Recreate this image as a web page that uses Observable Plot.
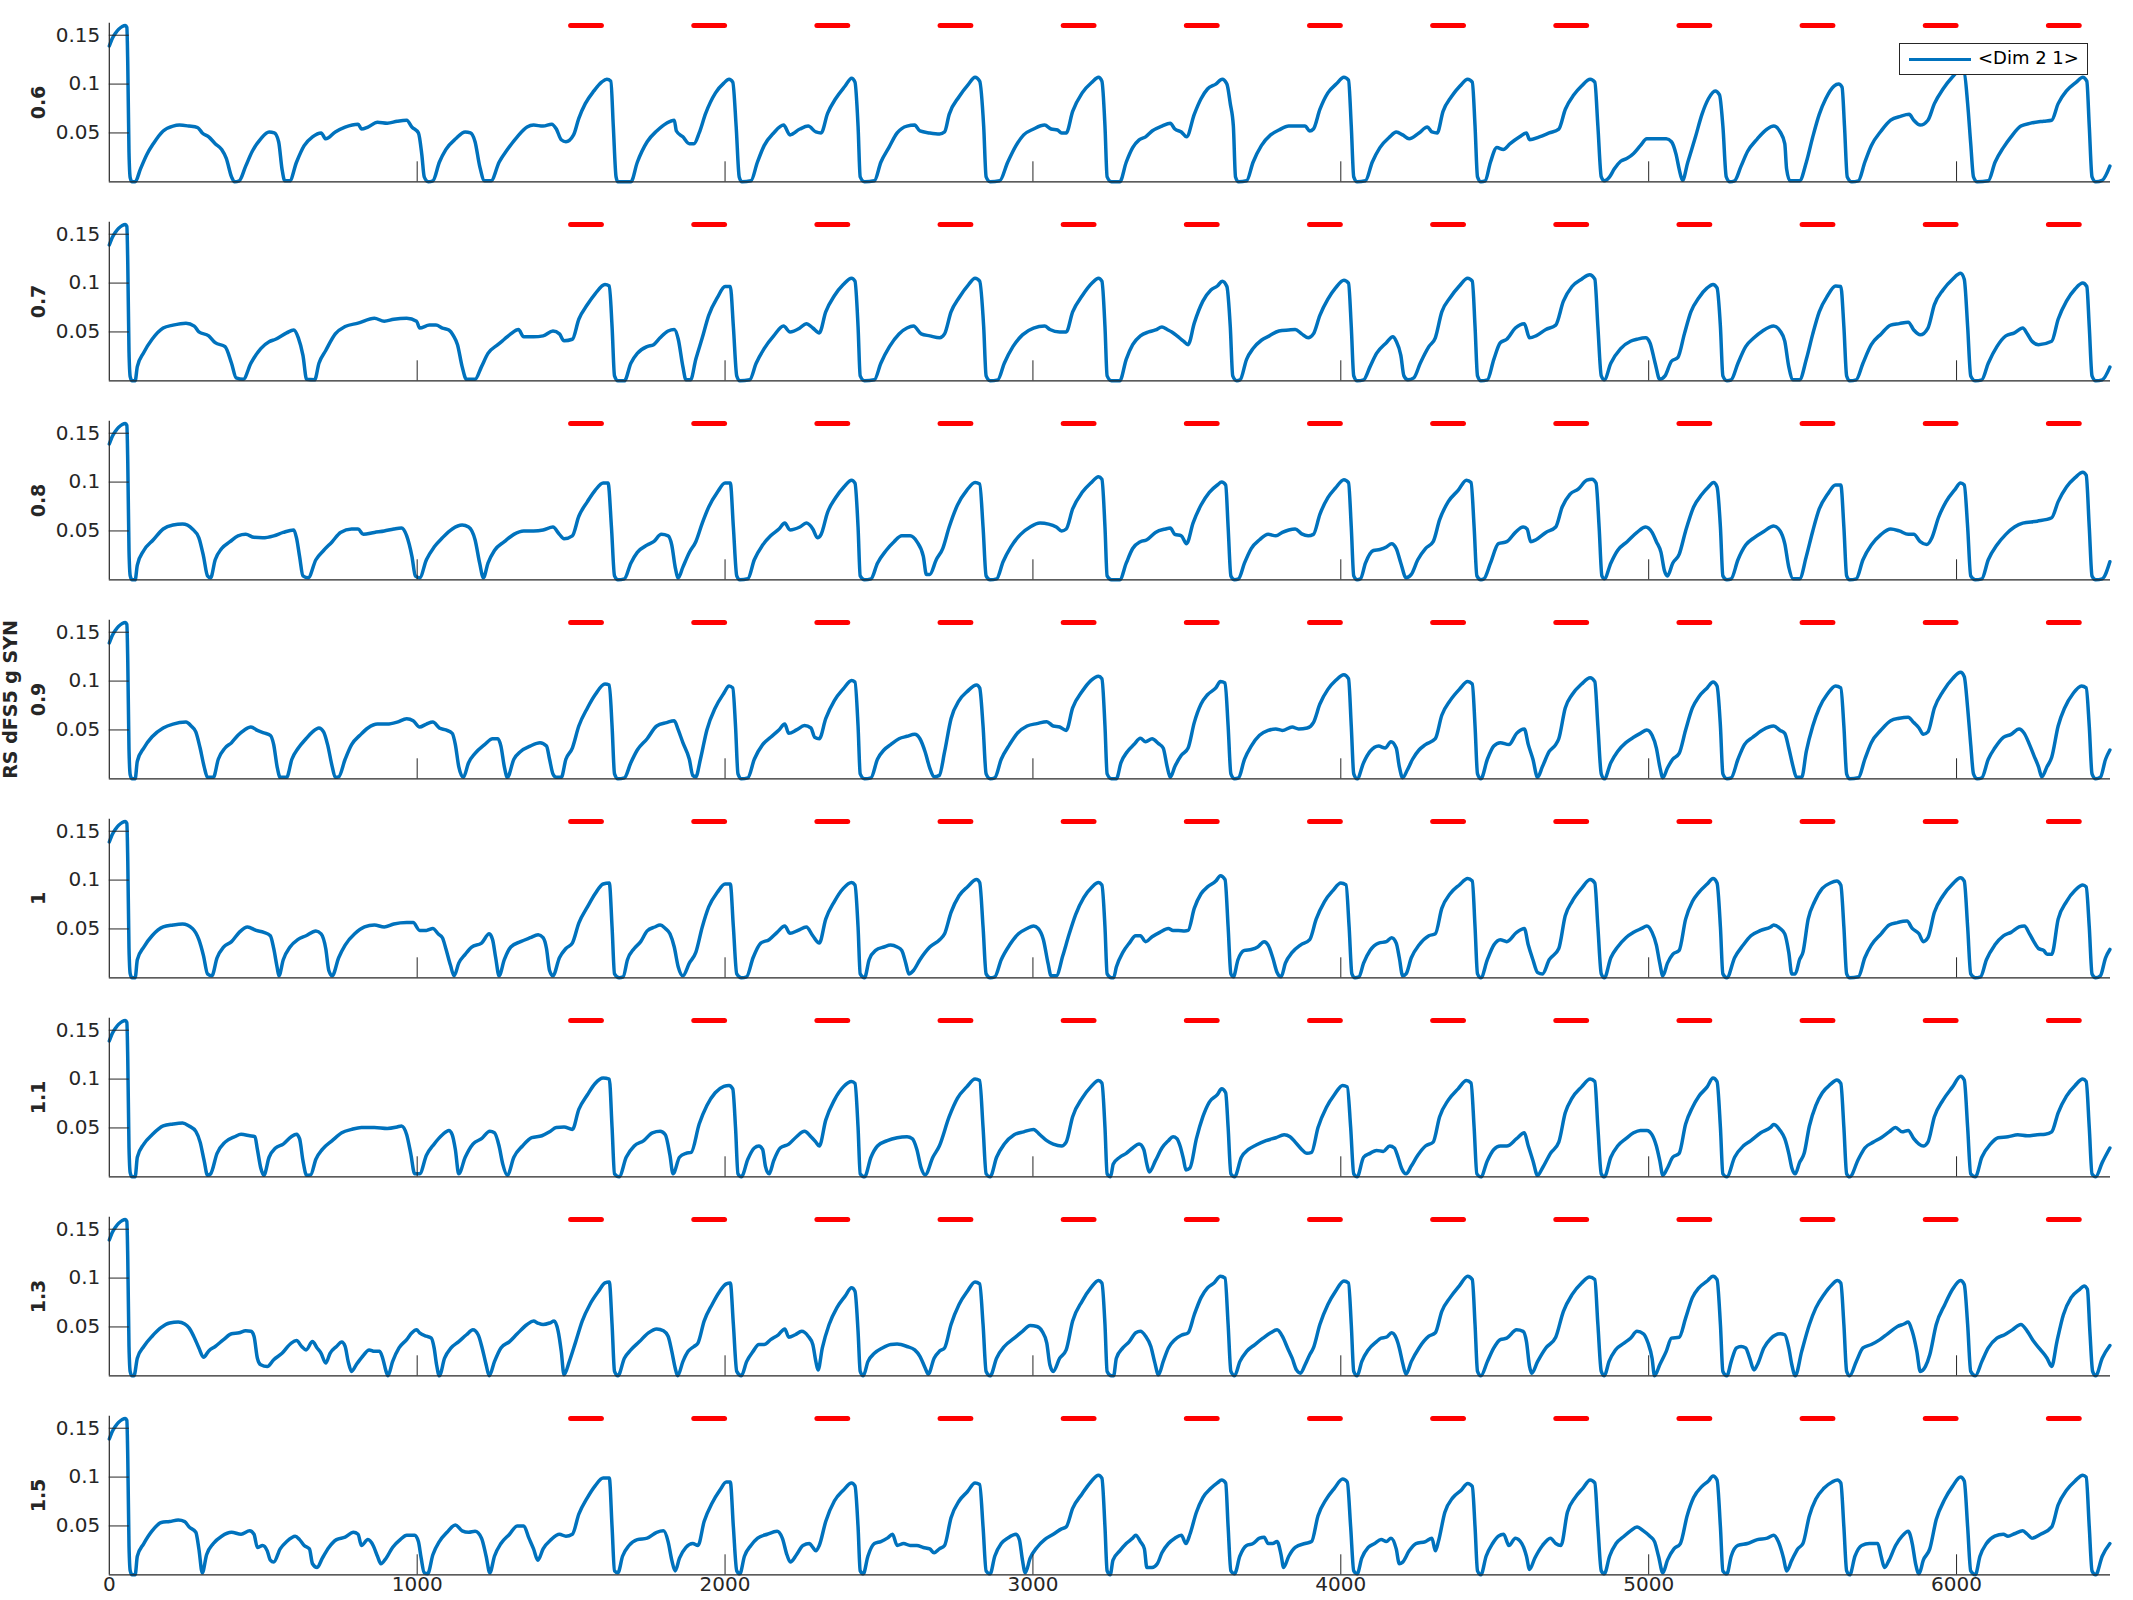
<!DOCTYPE html>
<html><head><meta charset="utf-8">
<script src="https://cdn.jsdelivr.net/npm/d3@7"></script>
<script src="https://cdn.jsdelivr.net/npm/@observablehq/plot@0.6"></script>
<style>
html,body{margin:0;padding:0;background:#fff;}
#wrap{position:relative;width:2133px;height:1600px;overflow:hidden;background:#fff;}
#legend{position:absolute;left:1899px;top:43px;width:189px;height:32px;border:1px solid #262626;background:#fff;box-sizing:border-box;}
#legend .ln{position:absolute;left:9px;top:13.5px;width:62px;height:3.5px;background:#0072BD;}
#legend .tx{position:absolute;left:78px;top:3px;font-family:"DejaVu Sans",sans-serif;font-size:18px;line-height:22px;color:#000;white-space:pre;}
</style></head>
<body><div id="wrap"><div id="legend"><div class="ln"></div><div class="tx">&lt;Dim 2 1&gt;</div></div></div>
<script>
// panel labels (value of the swept parameter)
const panelLabels = ["0.6","0.7","0.8","0.9","1","1.1","1.3","1.5"];
const yLabel = "RS dFS5 g SYN";
const legendLabel = "<Dim 2 1>";
// stimulus bars (red): start times, duration, level
const stimStart = [1500,1900,2300,2700,3100,3500,3900,4300,4700,5100,5500,5900,6300];
const stimDur = 100;
const stimLevel = 0.16;
const xTicks = [0,1000,2000,3000,4000,5000,6000];
const yTicks = [0.05,0.1,0.15];

const p06 = [[0,0.139],[10,0.147],[20,0.152],[30,0.156],[42,0.159],[52,0.16],[57,0.158],[60,0.12],[64,0.03],[68,0.004],[74,0],[84,0],
[101,0.013],[122,0.028],[143,0.039],[175,0.052],[207,0.057],[228,0.058],[259,0.057],[287,0.0555],[302,0.05],[323,0.046],[344,0.039],[365,0.033],[380,0.024],[397,0.005],[407,0],[422,0.001],
[443,0.016],[464,0.031],[492,0.044],[519,0.051],[536,0.05],[550,0.041],[561,0.013],[570,0.001],[586,0.001],
[608,0.02],[633,0.037],[660,0.046],[688,0.05],[703,0.044],[734,0.051],[766,0.056],[808,0.059],[819,0.054],[840,0.056],[871,0.061],[903,0.06],[935,0.062],[966,0.063],[983,0.056],[1004,0.05],[1015,0.028],[1023,0.005],[1036,0],[1051,0.001],
[1072,0.02],[1093,0.033],[1125,0.044],[1156,0.051],[1173,0.05],[1188,0.041],[1203,0.016],[1219,0.001],[1240,0.001],
[1266,0.02],[1293,0.033],[1325,0.046],[1357,0.056],[1378,0.058],[1409,0.057],[1437,0.059],[1452,0.054],[1468,0.043],[1483,0.041],[1508,0.048],
[1525,0.065],[1546,0.08],[1574,0.093],[1599,0.102],[1616,0.105],[1629,0.103],[1637,0.057],[1646,0.005],[1652,0],[1694,0],
[1715,0.02],[1747,0.041],[1778,0.052],[1810,0.06],[1835,0.063],[1842,0.052],[1863,0.046],[1884,0.039],[1899,0.039],[1916,0.05],
[1937,0.07],[1969,0.091],[1996,0.101],[2013,0.105],[2025,0.102],[2036,0.057],[2046,0.005],[2055,0],[2084,0.001],
[2105,0.02],[2127,0.037],[2158,0.05],[2190,0.058],[2211,0.048],[2243,0.054],[2270,0.057],[2295,0.051],[2312,0.05],
[2333,0.07],[2359,0.085],[2390,0.098],[2411,0.106],[2422,0.102],[2432,0.057],[2439,0.005],[2453,0],[2485,0.001],
[2506,0.02],[2532,0.035],[2559,0.05],[2591,0.057],[2616,0.058],[2633,0.052],[2665,0.05],[2697,0.049],[2713,0.051],
[2728,0.069],[2760,0.087],[2791,0.1],[2812,0.107],[2827,0.103],[2840,0.057],[2848,0.005],[2861,0],[2892,0.001],
[2918,0.02],[2945,0.037],[2970,0.048],[3002,0.054],[3038,0.058],[3059,0.054],[3080,0.053],[3093,0.05],[3108,0.05],
[3129,0.072],[3160,0.091],[3192,0.102],[3213,0.107],[3224,0.103],[3234,0.057],[3241,0.005],[3255,0],[3282,0],
[3303,0.02],[3324,0.035],[3345,0.043],[3366,0.046],[3387,0.052],[3419,0.057],[3446,0.06],[3461,0.054],[3482,0.051],[3499,0.046],
[3524,0.069],[3546,0.085],[3567,0.095],[3594,0.1],[3615,0.105],[3630,0.1],[3641,0.08],[3651,0.057],[3658,0.005],[3668,0],[3694,0.001],
[3715,0.02],[3742,0.037],[3772,0.048],[3799,0.053],[3831,0.057],[3863,0.057],[3884,0.057],[3899,0.052],[3911,0.054],
[3932,0.074],[3958,0.091],[3985,0.1],[4010,0.107],[4025,0.104],[4034,0.057],[4042,0.005],[4053,0],[4080,0.001],
[4102,0.02],[4127,0.035],[4159,0.046],[4180,0.051],[4201,0.048],[4222,0.044],[4254,0.05],[4281,0.056],[4296,0.051],[4313,0.05],
[4332,0.072],[4359,0.087],[4387,0.098],[4412,0.105],[4427,0.102],[4436,0.057],[4444,0.005],[4455,0],[4469,0.001],
[4486,0.02],[4507,0.035],[4528,0.033],[4550,0.039],[4581,0.046],[4603,0.05],[4613,0.043],[4645,0.046],[4677,0.05],[4708,0.054],
[4729,0.074],[4757,0.089],[4782,0.098],[4810,0.105],[4825,0.102],[4835,0.057],[4846,0.005],[4856,0.001],[4873,0.005],
[4888,0.013],[4909,0.021],[4930,0.024],[4951,0.029],[4973,0.037],[4994,0.044],[5025,0.044],[5057,0.044],[5074,0.041],[5089,0.028],[5099,0.013],[5110,0.0015],
[5127,0.02],[5152,0.046],[5173,0.069],[5194,0.085],[5216,0.093],[5230,0.089],[5241,0.057],[5252,0.005],[5264,0],[5279,0.001],
[5300,0.016],[5321,0.031],[5353,0.044],[5385,0.054],[5406,0.057],[5427,0.051],[5442,0.039],[5448,0.013],[5459,0.001],[5490,0.001],
[5512,0.02],[5533,0.046],[5554,0.069],[5575,0.085],[5602,0.098],[5617,0.1],[5628,0.097],[5636,0.057],[5645,0.005],[5660,0],[5681,0.001],
[5702,0.02],[5723,0.037],[5755,0.052],[5786,0.063],[5818,0.067],[5846,0.069],[5861,0.063],[5882,0.058],[5907,0.063],
[5928,0.08],[5956,0.095],[5983,0.106],[6008,0.113],[6025,0.111],[6036,0.08],[6046,0.039],[6055,0.005],[6067,0],[6103,0.001],
[6125,0.02],[6152,0.035],[6177,0.046],[6209,0.057],[6241,0.06],[6283,0.062],[6309,0.063],
[6330,0.08],[6357,0.093],[6389,0.102],[6410,0.107],[6423,0.103],[6431,0.057],[6440,0.005],[6452,0],[6473,0.0015],[6498,0.016]];

const p07 = [[0,0.139],[10,0.147],[20,0.152],[30,0.156],[42,0.159],[52,0.16],[57,0.158],[60,0.12],[64,0.03],[68,0.004],[74,0],[84,0],
[91,0.0145],[112,0.029],[139,0.0425],[175,0.054],[207,0.057],[249,0.059],[276,0.056],[291,0.05],[323,0.046],[344,0.039],[376,0.035],[397,0.018],[412,0.003],[435,0.0015],
[460,0.018],[492,0.033],[519,0.04],[540,0.0425],[576,0.049],[599,0.052],[614,0.044],[629,0.026],[641,0.0015],[667,0.001],
[681,0.018],[703,0.031],[734,0.048],[766,0.0555],[808,0.059],[861,0.064],[893,0.061],[924,0.063],[966,0.064],[998,0.061],[1008,0.054],[1040,0.057],[1061,0.057],[1082,0.054],[1103,0.052],[1118,0.046],[1131,0.037],[1146,0.0145],[1160,0.0015],[1188,0.0015],
[1209,0.0145],[1230,0.028],[1262,0.037],[1283,0.0425],[1304,0.048],[1329,0.0525],[1346,0.045],[1378,0.045],[1409,0.046],[1441,0.051],[1462,0.048],[1477,0.041],[1504,0.0425],
[1525,0.063],[1553,0.078],[1578,0.089],[1610,0.0985],[1624,0.097],[1633,0.0555],[1641,0.005],[1652,0],[1673,0],
[1694,0.018],[1715,0.028],[1747,0.035],[1768,0.037],[1789,0.044],[1815,0.051],[1835,0.0525],[1848,0.0425],[1863,0.0145],[1873,0.001],[1888,0.001],
[1905,0.022],[1926,0.044],[1947,0.067],[1975,0.085],[2000,0.0965],[2017,0.0965],[2027,0.0555],[2038,0.005],[2048,0],[2080,0.001],
[2101,0.018],[2127,0.033],[2158,0.046],[2190,0.056],[2211,0.05],[2243,0.054],[2264,0.0585],[2285,0.054],[2306,0.049],
[2327,0.0705],[2355,0.087],[2384,0.0985],[2411,0.105],[2422,0.102],[2432,0.0555],[2439,0.005],[2453,0],[2485,0.001],
[2506,0.018],[2534,0.035],[2565,0.048],[2591,0.054],[2612,0.056],[2637,0.048],[2665,0.046],[2697,0.044],[2713,0.048],
[2734,0.0705],[2760,0.085],[2791,0.0985],[2812,0.105],[2827,0.102],[2840,0.0555],[2848,0.005],[2861,0],[2886,0.001],
[2907,0.018],[2935,0.035],[2966,0.047],[3002,0.054],[3038,0.056],[3055,0.0525],[3087,0.05],[3108,0.05],
[3129,0.0705],[3160,0.087],[3192,0.1],[3213,0.105],[3224,0.102],[3234,0.0555],[3241,0.005],[3255,0],[3282,0],
[3303,0.022],[3324,0.037],[3349,0.046],[3376,0.05],[3398,0.052],[3419,0.055],[3436,0.0525],[3451,0.05],[3468,0.046],[3489,0.0405],[3504,0.037],
[3524,0.059],[3552,0.0815],[3578,0.093],[3599,0.097],[3615,0.102],[3630,0.0965],[3641,0.0555],[3649,0.005],[3662,0],[3673,0.001],
[3694,0.022],[3715,0.033],[3742,0.0415],[3768,0.046],[3799,0.051],[3831,0.052],[3852,0.0525],[3873,0.048],[3894,0.044],[3911,0.048],
[3932,0.067],[3958,0.0835],[3983,0.095],[4010,0.103],[4025,0.1],[4034,0.0555],[4042,0.005],[4053,0],[4074,0.001],
[4095,0.0145],[4116,0.028],[4148,0.039],[4169,0.045],[4180,0.0405],[4195,0.026],[4205,0.005],[4218,0.001],[4237,0.003],
[4258,0.018],[4286,0.035],[4307,0.044],
[4328,0.0705],[4355,0.085],[4385,0.097],[4412,0.105],[4427,0.102],[4436,0.0555],[4444,0.005],[4455,0],[4476,0.001],
[4497,0.022],[4518,0.039],[4539,0.0425],[4567,0.054],[4596,0.0585],[4613,0.044],[4634,0.046],[4666,0.0525],[4698,0.057],
[4723,0.0815],[4751,0.0965],[4782,0.104],[4808,0.1085],[4825,0.104],[4835,0.0555],[4846,0.005],[4856,0.001],
[4877,0.018],[4909,0.033],[4941,0.0405],[4962,0.0425],[4990,0.044],[5004,0.039],[5021,0.018],[5036,0.0015],[5053,0.005],[5074,0.02],[5095,0.024],
[5116,0.048],[5137,0.0705],[5163,0.085],[5190,0.095],[5209,0.0985],[5222,0.095],[5233,0.0555],[5241,0.005],[5254,0],[5268,0.001],
[5290,0.018],[5315,0.035],[5342,0.044],[5370,0.051],[5406,0.056],[5427,0.051],[5442,0.0405],[5455,0.0145],[5469,0.001],[5490,0.001],
[5512,0.022],[5533,0.048],[5554,0.0705],[5581,0.087],[5607,0.097],[5624,0.0965],[5634,0.0555],[5643,0.005],[5653,0],[5674,0.001],
[5696,0.018],[5723,0.037],[5755,0.048],[5786,0.057],[5814,0.0585],[5843,0.06],[5861,0.052],[5882,0.047],[5907,0.054],
[5928,0.078],[5956,0.093],[5987,0.104],[6013,0.11],[6025,0.104],[6036,0.0555],[6046,0.005],[6061,0],[6082,0.001],
[6103,0.018],[6131,0.035],[6160,0.046],[6188,0.049],[6215,0.054],[6230,0.048],[6245,0.0405],[6266,0.037],[6309,0.0405],
[6330,0.063],[6357,0.0815],[6385,0.094],[6410,0.1],[6423,0.0965],[6431,0.0555],[6440,0.005],[6452,0],[6473,0.001],[6498,0.014]];

const p08 = [[0,0.139],[10,0.147],[20,0.152],[30,0.156],[42,0.159],[52,0.16],[57,0.158],[60,0.12],[64,0.03],[68,0.004],[74,0],[84,0],
[91,0.015],[112,0.03],[143,0.041],[175,0.052],[207,0.056],[238,0.057],[270,0.052],[291,0.043],[306,0.024],[319,0.004],[329,0.002],
[344,0.0205],[365,0.032],[392,0.039],[418,0.045],[443,0.0465],[470,0.0435],[498,0.043],[534,0.045],[565,0.0485],[599,0.051],[608,0.043],[618,0.024],[629,0.004],[646,0.002],
[671,0.0205],[696,0.03],[724,0.039],[751,0.0485],[787,0.052],[808,0.052],[825,0.0465],[861,0.0485],[893,0.05],[924,0.052],[949,0.053],[966,0.045],[983,0.024],[994,0.004],[1008,0.002],
[1030,0.0205],[1055,0.0335],[1082,0.043],[1114,0.052],[1146,0.056],[1167,0.054],[1188,0.041],[1203,0.017],[1215,0.002],
[1230,0.017],[1251,0.03],[1283,0.039],[1314,0.0465],[1346,0.05],[1378,0.05],[1409,0.051],[1441,0.054],[1462,0.0465],[1477,0.042],[1504,0.045],
[1525,0.065],[1553,0.08],[1578,0.0915],[1604,0.099],[1620,0.099],[1631,0.054],[1641,0.004],[1652,0],[1673,0.001],
[1694,0.017],[1715,0.028],[1747,0.0355],[1768,0.039],[1793,0.0465],[1815,0.045],[1827,0.0355],[1838,0.013],[1848,0.002],
[1863,0.013],[1884,0.028],[1905,0.039],[1926,0.058],[1947,0.0745],[1975,0.0895],[2000,0.099],[2017,0.099],[2027,0.054],[2038,0.004],[2048,0],[2074,0.001],
[2095,0.0205],[2122,0.0355],[2148,0.045],[2175,0.052],[2194,0.058],[2211,0.051],[2243,0.054],[2264,0.058],[2285,0.052],[2300,0.043],[2312,0.0465],
[2333,0.069],[2359,0.084],[2386,0.095],[2411,0.102],[2422,0.099],[2432,0.054],[2439,0.004],[2453,0],[2474,0.001],
[2495,0.017],[2523,0.03],[2549,0.039],[2574,0.045],[2601,0.045],[2623,0.039],[2644,0.024],[2654,0.0055],[2665,0.0055],
[2686,0.0205],[2707,0.032],[2728,0.054],[2755,0.0765],[2785,0.0915],[2812,0.0995],[2827,0.098],[2838,0.054],[2848,0.004],[2861,0],[2882,0.001],
[2903,0.0185],[2928,0.0335],[2960,0.0465],[2991,0.054],[3023,0.058],[3051,0.057],[3076,0.054],[3093,0.05],[3108,0.052],
[3129,0.0725],[3160,0.0895],[3188,0.099],[3213,0.1055],[3224,0.103],[3234,0.054],[3241,0.004],[3255,0],[3282,0],
[3303,0.017],[3324,0.032],[3349,0.039],[3370,0.041],[3398,0.0485],[3430,0.052],[3446,0.053],[3461,0.0465],[3482,0.045],[3499,0.037],
[3520,0.058],[3546,0.0765],[3573,0.0895],[3599,0.097],[3613,0.1],[3626,0.097],[3634,0.054],[3643,0.004],[3655,0],[3668,0.001],
[3687,0.017],[3709,0.032],[3736,0.041],[3764,0.0465],[3789,0.045],[3810,0.0485],[3831,0.051],[3852,0.052],[3873,0.047],[3894,0.045],[3911,0.0465],
[3932,0.067],[3958,0.084],[3983,0.094],[4010,0.1025],[4025,0.0995],[4034,0.054],[4042,0.004],[4053,0],[4064,0.001],
[4080,0.017],[4106,0.03],[4127,0.031],[4148,0.0335],[4165,0.037],[4180,0.032],[4195,0.017],[4212,0.002],[4229,0.0055],
[4250,0.0205],[4275,0.032],[4300,0.039],
[4321,0.0615],[4349,0.08],[4381,0.0915],[4408,0.102],[4423,0.0995],[4433,0.054],[4442,0.004],[4455,0],[4465,0.001],
[4486,0.017],[4512,0.037],[4539,0.039],[4567,0.0485],[4592,0.054],[4605,0.052],[4617,0.039],[4634,0.041],[4666,0.0485],[4698,0.054],
[4719,0.0745],[4744,0.0875],[4772,0.093],[4799,0.102],[4816,0.103],[4829,0.099],[4839,0.054],[4848,0.004],[4856,0.001],
[4877,0.017],[4899,0.03],[4930,0.039],[4962,0.0485],[4990,0.054],[5011,0.0485],[5025,0.039],[5040,0.028],[5051,0.0095],[5061,0.004],[5078,0.017],[5099,0.026],
[5120,0.05],[5146,0.0745],[5173,0.0875],[5194,0.095],[5211,0.0995],[5222,0.095],[5233,0.054],[5241,0.004],[5254,0],[5268,0.001],
[5290,0.0205],[5315,0.0355],[5342,0.043],[5374,0.0495],[5406,0.055],[5427,0.05],[5442,0.037],[5455,0.013],[5469,0.001],[5490,0.001],
[5512,0.024],[5533,0.05],[5554,0.0725],[5581,0.0875],[5607,0.097],[5624,0.097],[5634,0.054],[5643,0.004],[5653,0],[5674,0.001],
[5696,0.0205],[5723,0.0355],[5755,0.0465],[5786,0.052],[5814,0.05],[5843,0.0465],[5861,0.0465],[5882,0.039],[5903,0.036],[5920,0.043],
[5941,0.0635],[5966,0.08],[5994,0.092],[6013,0.099],[6025,0.097],[6036,0.054],[6046,0.004],[6061,0],[6082,0.001],
[6103,0.0205],[6131,0.0355],[6160,0.0465],[6188,0.054],[6215,0.058],[6262,0.06],[6309,0.0635],
[6330,0.08],[6357,0.095],[6385,0.1045],[6410,0.11],[6421,0.107],[6431,0.054],[6440,0.004],[6452,0],[6473,0.001],[6498,0.0185]];

const p09 = [[0,0.139],[10,0.147],[20,0.152],[30,0.156],[42,0.159],[52,0.16],[57,0.158],[60,0.12],[64,0.03],[68,0.004],[74,0],[84,0],
[91,0.018],[112,0.0315],[139,0.043],[175,0.052],[207,0.056],[249,0.058],[266,0.054],[281,0.048],[295,0.0315],[308,0.0125],[319,0.0015],[338,0.0015],
[354,0.02],[376,0.0315],[397,0.037],[418,0.0445],[439,0.05],[460,0.053],[481,0.0495],[502,0.047],[523,0.0445],[534,0.035],[545,0.0125],[555,0.0015],[576,0.0015],
[593,0.02],[614,0.0315],[639,0.041],[660,0.048],[681,0.052],[696,0.048],[709,0.035],[724,0.0125],[734,0.0015],[745,0.002],
[766,0.02],[787,0.035],[814,0.0445],[840,0.052],[871,0.056],[903,0.056],[935,0.058],[966,0.0615],[987,0.0595],[1008,0.053],[1030,0.056],[1051,0.058],[1072,0.052],[1093,0.05],[1114,0.0465],[1124,0.035],[1135,0.0125],[1150,0.0015],
[1167,0.0165],[1188,0.026],[1219,0.035],[1245,0.041],[1262,0.041],[1272,0.0335],[1283,0.0125],[1293,0.0015],
[1314,0.02],[1336,0.028],[1367,0.0335],[1399,0.037],[1420,0.0335],[1430,0.02],[1441,0.005],[1452,0.0015],[1468,0.0015],
[1483,0.02],[1504,0.0315],[1525,0.054],[1553,0.0725],[1578,0.086],[1610,0.097],[1624,0.096],[1633,0.054],[1641,0.005],[1652,0],[1673,0.001],
[1694,0.0165],[1715,0.0295],[1747,0.041],[1778,0.054],[1810,0.0575],[1835,0.0595],[1848,0.05],[1863,0.037],[1884,0.02],[1895,0.0035],[1905,0.002],
[1920,0.02],[1941,0.05],[1968,0.0725],[1996,0.0875],[2013,0.095],[2025,0.093],[2034,0.054],[2042,0.005],[2053,0],[2074,0.001],
[2095,0.02],[2122,0.035],[2148,0.0425],[2175,0.05],[2194,0.056],[2207,0.0465],[2232,0.05],[2258,0.0545],[2279,0.052],[2291,0.0425],[2306,0.041],
[2327,0.0615],[2355,0.08],[2384,0.092],[2411,0.1005],[2422,0.099],[2432,0.054],[2439,0.005],[2453,0],[2474,0.001],
[2495,0.02],[2516,0.0295],[2538,0.035],[2565,0.041],[2591,0.0435],[2616,0.0455],[2633,0.041],[2650,0.0275],[2665,0.011],[2679,0.002],[2696,0.0035],
[2713,0.0275],[2734,0.0615],[2760,0.08],[2787,0.0895],[2817,0.096],[2827,0.093],[2838,0.054],[2848,0.005],[2861,0],[2876,0.001],
[2897,0.02],[2924,0.035],[2949,0.0465],[2981,0.054],[3013,0.0565],[3045,0.0585],[3066,0.054],[3087,0.053],[3108,0.0495],
[3129,0.0725],[3160,0.0895],[3188,0.1005],[3213,0.105],[3224,0.1025],[3234,0.054],[3241,0.005],[3255,0],[3271,0],
[3286,0.0165],[3307,0.028],[3328,0.035],[3349,0.0415],[3366,0.038],[3387,0.041],[3408,0.036],[3423,0.0315],[3436,0.0125],[3446,0.0015],
[3461,0.0125],[3482,0.024],[3504,0.0315],
[3524,0.0575],[3546,0.0765],[3567,0.086],[3594,0.093],[3609,0.0995],[3624,0.098],[3634,0.054],[3643,0.005],[3655,0],[3668,0.001],
[3687,0.02],[3709,0.0335],[3736,0.0445],[3764,0.0495],[3789,0.051],[3810,0.0495],[3842,0.053],[3863,0.051],[3891,0.052],[3911,0.0575],
[3932,0.0765],[3958,0.0915],[3983,0.1005],[4010,0.1065],[4025,0.1025],[4034,0.054],[4042,0.005],[4053,0],
[4074,0.0165],[4095,0.028],[4123,0.0335],[4144,0.0315],[4163,0.038],[4180,0.0315],[4190,0.0125],[4201,0.001],[4216,0.009],
[4233,0.02],[4254,0.0295],[4275,0.035],[4307,0.041],
[4328,0.065],[4355,0.08],[4385,0.0915],[4412,0.0995],[4427,0.097],[4436,0.054],[4444,0.005],[4455,0],
[4476,0.02],[4497,0.0335],[4518,0.037],[4546,0.035],[4571,0.0465],[4596,0.051],[4609,0.035],[4624,0.02],[4639,0.0015],[4655,0.0125],[4677,0.028],[4698,0.035],[4708,0.041],
[4729,0.0725],[4751,0.086],[4782,0.097],[4810,0.1035],[4825,0.0995],[4835,0.054],[4846,0.005],[4856,0],
[4877,0.0165],[4899,0.028],[4926,0.037],[4951,0.0425],[4973,0.0465],[4994,0.05],[5011,0.0445],[5025,0.0315],[5036,0.0125],[5046,0.001],[5061,0.011],[5078,0.02],[5099,0.026],
[5120,0.05],[5142,0.0725],[5163,0.084],[5190,0.093],[5209,0.099],[5222,0.095],[5233,0.054],[5241,0.005],[5254,0],[5268,0.001],
[5290,0.02],[5311,0.035],[5338,0.0425],[5370,0.05],[5406,0.054],[5427,0.0495],[5442,0.0465],[5455,0.0315],[5469,0.0125],[5480,0.0015],[5497,0.0015],
[5512,0.028],[5533,0.054],[5554,0.0725],[5581,0.087],[5607,0.095],[5624,0.093],[5634,0.054],[5643,0.005],[5653,0],[5681,0.001],
[5702,0.02],[5723,0.037],[5755,0.05],[5786,0.0595],[5814,0.062],[5843,0.063],[5861,0.0575],[5878,0.052],[5892,0.0455],[5907,0.048],
[5928,0.0725],[5956,0.0895],[5987,0.1025],[6013,0.109],[6025,0.1045],[6036,0.0725],[6046,0.035],[6055,0.005],[6067,0],[6082,0.001],
[6103,0.02],[6124,0.0315],[6152,0.0425],[6177,0.0455],[6203,0.051],[6220,0.0465],[6237,0.035],[6251,0.024],[6266,0.0125],[6277,0.002],[6294,0.0125],[6309,0.022],
[6330,0.054],[6351,0.0725],[6378,0.087],[6406,0.095],[6421,0.093],[6431,0.054],[6440,0.005],[6452,0],[6467,0.0015],[6484,0.02],[6498,0.0295]];

const p10 = [[0,0.139],[10,0.147],[20,0.152],[30,0.156],[42,0.159],[52,0.16],[57,0.158],[60,0.12],[64,0.03],[68,0.004],[74,0],[84,0],
[91,0.0185],[112,0.0315],[139,0.043],[175,0.052],[207,0.054],[238,0.055],[270,0.0505],[291,0.039],[306,0.0225],[319,0.004],[333,0.002],
[350,0.0205],[371,0.0315],[397,0.037],[422,0.0465],[449,0.052],[477,0.0485],[502,0.0465],[523,0.043],[534,0.03],[545,0.011],[551,0.002],
[565,0.0185],[587,0.0315],[612,0.039],[639,0.043],[671,0.048],[688,0.045],[703,0.03],[713,0.0075],[724,0.002],
[745,0.0205],[766,0.0335],[797,0.045],[829,0.052],[861,0.054],[893,0.052],[924,0.055],[966,0.0565],[987,0.0565],[1008,0.0485],[1030,0.0485],[1051,0.0505],[1068,0.045],[1082,0.041],[1093,0.03],[1108,0.013],[1120,0.002],
[1135,0.015],[1156,0.024],[1177,0.0315],[1209,0.0355],[1234,0.045],[1245,0.039],[1255,0.0205],[1266,0.002],
[1283,0.0185],[1304,0.0315],[1336,0.037],[1367,0.041],[1393,0.044],[1409,0.041],[1420,0.03],[1430,0.0075],[1441,0.002],
[1462,0.0205],[1483,0.03],[1504,0.0355],
[1525,0.056],[1553,0.0725],[1578,0.086],[1604,0.096],[1624,0.097],[1633,0.052],[1641,0.004],[1656,0],[1669,0.001],
[1683,0.0185],[1705,0.03],[1726,0.037],[1747,0.048],[1772,0.052],[1789,0.054],[1806,0.0505],[1821,0.045],[1835,0.0315],[1848,0.011],[1863,0.002],[1884,0.015],[1905,0.026],
[1926,0.052],[1947,0.0725],[1975,0.0875],[2000,0.096],[2017,0.096],[2027,0.052],[2038,0.004],[2053,0],[2070,0.001],
[2091,0.0205],[2116,0.0355],[2143,0.039],[2169,0.0465],[2194,0.053],[2211,0.0455],[2237,0.0485],[2264,0.052],[2285,0.043],[2306,0.0355],
[2327,0.06],[2355,0.078],[2384,0.0915],[2411,0.0975],[2422,0.095],[2432,0.052],[2439,0.004],[2453,0],
[2468,0.0185],[2489,0.028],[2516,0.0315],[2538,0.0335],[2559,0.0315],[2574,0.028],[2587,0.015],[2597,0.004],[2612,0.0075],[2633,0.0185],[2665,0.0315],[2697,0.039],[2713,0.045],
[2734,0.067],[2760,0.084],[2787,0.093],[2817,0.1005],[2827,0.0975],[2838,0.052],[2848,0.004],[2861,0],[2876,0.001],
[2897,0.0185],[2924,0.0335],[2953,0.045],[2981,0.0505],[3002,0.053],[3017,0.0505],[3034,0.039],[3049,0.015],[3059,0.002],[3076,0.002],
[3097,0.0225],[3118,0.045],[3139,0.065],[3165,0.082],[3192,0.093],[3213,0.0975],[3224,0.095],[3234,0.052],[3241,0.004],[3255,0],[3262,0],
[3271,0.011],[3292,0.026],[3313,0.0355],[3334,0.043],[3349,0.043],[3366,0.037],[3387,0.042],[3412,0.0465],[3440,0.0505],[3455,0.0485],[3472,0.0485],[3493,0.048],[3504,0.0485],
[3524,0.071],[3546,0.086],[3567,0.093],[3594,0.099],[3609,0.1045],[3624,0.1005],[3634,0.052],[3643,0.004],[3651,0.001],
[3666,0.0185],[3687,0.028],[3709,0.029],[3730,0.0315],[3751,0.037],[3764,0.0335],[3779,0.0205],[3793,0.0055],[3806,0.001],
[3820,0.015],[3842,0.026],[3869,0.0335],[3899,0.039],
[3920,0.06],[3947,0.078],[3975,0.0895],[4000,0.097],[4017,0.095],[4027,0.052],[4036,0.004],[4046,0],[4059,0.001],
[4074,0.015],[4095,0.028],[4123,0.0355],[4148,0.037],[4165,0.041],[4180,0.0355],[4190,0.0205],[4201,0.002],[4212,0.004],
[4229,0.0205],[4254,0.0335],[4286,0.043],[4307,0.045],
[4328,0.071],[4355,0.086],[4385,0.095],[4412,0.1015],[4427,0.099],[4436,0.052],[4444,0.004],[4455,0],
[4476,0.0185],[4497,0.0335],[4518,0.039],[4539,0.037],[4571,0.0465],[4596,0.0505],[4609,0.0335],[4624,0.0185],[4639,0.0055],[4655,0.004],[4677,0.0185],[4708,0.03],
[4729,0.0635],[4751,0.078],[4782,0.0915],[4810,0.1005],[4825,0.097],[4835,0.052],[4846,0.004],[4856,0],
[4877,0.0205],[4899,0.0315],[4926,0.041],[4951,0.0465],[4977,0.0505],[4994,0.053],[5011,0.0465],[5025,0.0335],[5036,0.015],[5046,0.002],[5061,0.015],[5078,0.024],[5099,0.028],
[5120,0.06],[5142,0.078],[5163,0.0875],[5190,0.096],[5209,0.1015],[5222,0.097],[5233,0.052],[5241,0.004],[5254,0],
[5279,0.0205],[5307,0.0335],[5332,0.043],[5364,0.0485],[5396,0.052],[5406,0.054],[5427,0.0505],[5442,0.045],[5455,0.026],[5465,0.004],[5476,0.004],[5490,0.0185],[5501,0.026],
[5518,0.06],[5539,0.078],[5564,0.0915],[5590,0.097],[5611,0.099],[5624,0.095],[5634,0.052],[5643,0.004],[5653,0],[5681,0.001],
[5702,0.0205],[5723,0.0335],[5755,0.045],[5781,0.054],[5808,0.0565],[5839,0.058],[5856,0.0505],[5878,0.045],[5892,0.037],[5907,0.041],
[5928,0.067],[5956,0.084],[5987,0.096],[6013,0.1025],[6025,0.099],[6036,0.052],[6046,0.004],[6061,0],[6078,0.001],
[6097,0.0185],[6124,0.0335],[6152,0.043],[6177,0.0465],[6203,0.052],[6220,0.053],[6237,0.045],[6251,0.037],[6266,0.03],[6283,0.028],[6294,0.024],[6309,0.024],
[6330,0.06],[6357,0.078],[6385,0.0895],[6410,0.095],[6421,0.093],[6431,0.052],[6440,0.004],[6452,0],[6467,0.002],[6484,0.0205],[6498,0.029]];

const p11 = [[0,0.139],[10,0.147],[20,0.152],[30,0.156],[42,0.159],[52,0.16],[57,0.158],[60,0.12],[64,0.03],[68,0.004],[74,0],[84,0],
[91,0.02],[112,0.0335],[139,0.043],[175,0.052],[207,0.054],[238,0.055],[259,0.052],[281,0.0465],[295,0.0355],[308,0.0165],[319,0.0015],[329,0.003],
[350,0.024],[376,0.0355],[407,0.041],[428,0.0435],[456,0.042],[473,0.041],[481,0.028],[492,0.009],[502,0.0015],[519,0.02],[540,0.0295],[565,0.0335],[591,0.041],[608,0.0435],[618,0.039],[629,0.0165],[641,0.0015],[654,0.002],
[671,0.018],[692,0.028],[724,0.037],[755,0.045],[787,0.0485],[819,0.0505],[861,0.0505],[903,0.0495],[935,0.051],[949,0.052],[966,0.043],[979,0.024],[992,0.003],[1008,0.003],
[1030,0.022],[1055,0.0335],[1082,0.043],[1103,0.0475],[1114,0.043],[1124,0.028],[1135,0.003],
[1156,0.02],[1181,0.0335],[1209,0.039],[1236,0.0465],[1251,0.045],[1266,0.0315],[1278,0.013],[1293,0.0015],
[1314,0.02],[1342,0.0315],[1372,0.04],[1405,0.042],[1430,0.046],[1452,0.0505],[1477,0.051],[1504,0.0485],
[1525,0.069],[1553,0.084],[1578,0.0955],[1604,0.101],[1624,0.1],[1633,0.0505],[1641,0.003],[1656,0],
[1679,0.02],[1705,0.0315],[1736,0.037],[1764,0.045],[1789,0.0465],[1806,0.043],[1821,0.022],[1831,0.003],
[1852,0.02],[1873,0.024],[1890,0.025],
[1916,0.054],[1941,0.073],[1968,0.086],[1996,0.0925],[2013,0.0935],[2025,0.09],[2034,0.0505],[2042,0.003],[2053,0],
[2074,0.018],[2095,0.0295],[2110,0.0315],[2122,0.028],[2131,0.011],[2143,0.003],[2158,0.0165],[2179,0.0295],[2207,0.0335],[2232,0.041],[2258,0.0465],[2279,0.041],[2295,0.0355],[2306,0.0315],
[2327,0.058],[2355,0.0785],[2384,0.092],[2411,0.0975],[2422,0.0955],[2432,0.0505],[2439,0.003],[2453,0],
[2474,0.02],[2495,0.0315],[2527,0.037],[2559,0.04],[2591,0.041],[2608,0.039],[2623,0.028],[2637,0.009],[2650,0.002],[2675,0.02],[2696,0.0315],
[2728,0.0615],[2755,0.0805],[2785,0.092],[2812,0.1],[2827,0.0985],[2838,0.0505],[2848,0.003],[2861,0],
[2882,0.02],[2907,0.0335],[2939,0.043],[2970,0.046],[3002,0.0485],[3023,0.043],[3045,0.037],[3066,0.0335],[3093,0.0315],[3108,0.0355],
[3129,0.0615],[3160,0.0805],[3188,0.092],[3213,0.0985],[3224,0.096],[3234,0.0505],[3241,0.003],[3252,0],
[3261,0.013],[3282,0.02],[3303,0.024],[3324,0.0295],[3345,0.0335],[3360,0.028],[3370,0.013],[3378,0.005],[3398,0.0165],[3419,0.0295],[3440,0.037],[3455,0.041],[3468,0.039],[3478,0.0315],[3489,0.018],[3497,0.007],[3510,0.009],
[3531,0.039],[3552,0.0615],[3573,0.0765],[3599,0.084],[3613,0.09],[3626,0.086],[3634,0.0505],[3643,0.003],[3655,0],
[3677,0.02],[3700,0.028],[3725,0.0325],[3757,0.037],[3789,0.04],[3816,0.043],[3835,0.041],[3852,0.0355],[3873,0.028],[3890,0.024],[3905,0.025],
[3926,0.0505],[3953,0.071],[3979,0.084],[4006,0.0935],[4021,0.092],[4032,0.0505],[4042,0.003],[4053,0],
[4074,0.02],[4095,0.024],[4116,0.027],[4138,0.026],[4159,0.0315],[4174,0.0295],[4186,0.02],[4197,0.009],[4212,0.003],[4229,0.011],
[4250,0.022],[4275,0.0315],[4300,0.0355],
[4321,0.0615],[4349,0.0785],[4381,0.09],[4408,0.0985],[4423,0.096],[4433,0.0505],[4442,0.003],[4455,0],
[4476,0.0165],[4497,0.028],[4518,0.0315],[4539,0.0315],[4571,0.039],[4596,0.045],[4609,0.0315],[4624,0.0165],[4639,0.0015],[4655,0.009],[4681,0.024],[4708,0.0355],
[4729,0.0655],[4751,0.0805],[4782,0.092],[4810,0.1],[4825,0.0975],[4835,0.0505],[4846,0.003],[4856,0],
[4877,0.02],[4899,0.0315],[4926,0.039],[4951,0.045],[4973,0.0475],[4994,0.0475],[5011,0.043],[5025,0.0315],[5036,0.0165],[5046,0.0015],[5061,0.009],[5078,0.02],[5099,0.024],
[5120,0.054],[5142,0.071],[5163,0.0825],[5190,0.092],[5209,0.101],[5222,0.0975],[5233,0.0505],[5241,0.003],[5254,0],
[5279,0.02],[5307,0.0315],[5332,0.037],[5364,0.045],[5396,0.0505],[5406,0.0535],[5427,0.0475],[5442,0.039],[5455,0.024],[5465,0.009],[5476,0.003],[5490,0.0145],[5505,0.024],
[5522,0.052],[5543,0.073],[5564,0.086],[5590,0.0945],[5611,0.099],[5624,0.0955],[5634,0.0505],[5643,0.003],[5653,0],
[5681,0.018],[5702,0.0295],[5730,0.0355],[5755,0.04],[5781,0.046],[5802,0.0505],[5823,0.046],[5843,0.0475],[5861,0.039],[5878,0.0335],[5892,0.0315],[5907,0.0355],
[5928,0.0615],[5956,0.0785],[5987,0.092],[6013,0.103],[6025,0.099],[6036,0.0505],[6046,0.003],[6061,0],
[6082,0.02],[6110,0.0335],[6135,0.04],[6167,0.041],[6199,0.043],[6230,0.042],[6262,0.043],[6288,0.0435],[6309,0.046],
[6330,0.0655],[6357,0.0825],[6385,0.0935],[6410,0.1],[6421,0.0975],[6431,0.0505],[6440,0.003],[6452,0],[6473,0.0145],[6498,0.0295]];

const p13 = [[0,0.139],[10,0.147],[20,0.152],[30,0.156],[42,0.159],[52,0.16],[57,0.158],[60,0.12],[64,0.03],[68,0.004],[74,0],[80,0],
[91,0.018],[112,0.03],[139,0.0405],[169,0.0495],[196,0.054],[224,0.055],[245,0.053],[259,0.049],[274,0.0405],[291,0.0285],[306,0.019],[323,0.0255],[344,0.03],[371,0.037],[397,0.043],[422,0.044],[443,0.046],[460,0.0455],[470,0.0405],[481,0.018],[492,0.0113],[513,0.0095],[534,0.0165],[561,0.023],[591,0.0335],[608,0.036],[625,0.03],[639,0.0265],[660,0.035],[675,0.0285],[688,0.023],[703,0.013],[717,0.023],[738,0.03],[755,0.0345],[766,0.03],[776,0.0145],[787,0.0045],[802,0.0113],[823,0.02],[844,0.0265],[861,0.025],[878,0.025],[888,0.018],[899,0.0045],[905,0],[920,0.0145],[941,0.0285],[966,0.037],[983,0.044],[998,0.047],[1008,0.044],[1030,0.0405],[1046,0.0385],[1055,0.0285],[1063,0.0113],[1072,0],
[1089,0.018],[1110,0.0285],[1135,0.035],[1160,0.042],[1181,0.047],[1198,0.042],[1211,0.0285],[1224,0.0113],[1234,0],
[1251,0.0145],[1272,0.0285],[1300,0.035],[1325,0.043],[1357,0.0525],[1378,0.056],[1392,0.054],[1409,0.0525],[1430,0.054],[1445,0.056],[1458,0.0455],[1468,0.025],[1477,0.001],
[1494,0.0145],[1515,0.035],[1536,0.056],[1561,0.073],[1589,0.0865],[1610,0.095],[1624,0.096],[1633,0.0525],[1641,0.0045],[1652,0],
[1673,0.018],[1694,0.0265],[1722,0.035],[1751,0.044],[1778,0.048],[1800,0.046],[1815,0.0405],[1827,0.025],[1838,0.008],[1846,0],
[1863,0.0145],[1880,0.025],[1899,0.03],[1912,0.0335],
[1932,0.056],[1958,0.073],[1983,0.0865],[2004,0.094],[2017,0.095],[2027,0.0525],[2038,0.0045],[2053,0],
[2070,0.0145],[2091,0.025],[2110,0.032],[2127,0.032],[2148,0.037],[2173,0.042],[2194,0.048],[2207,0.0395],[2228,0.042],[2249,0.0455],[2270,0.0405],[2285,0.032],[2295,0.0145],[2302,0.006],
[2316,0.0285],[2338,0.0525],[2363,0.0695],[2390,0.0815],[2411,0.09],[2422,0.0865],[2432,0.0455],[2439,0.0045],[2449,0],
[2464,0.0145],[2485,0.023],[2511,0.0285],[2538,0.032],[2559,0.0325],[2591,0.03],[2616,0.0265],[2633,0.02],[2650,0.008],[2660,0.0017],[2679,0.018],[2696,0.025],[2713,0.0285],
[2734,0.0525],[2760,0.073],[2787,0.0865],[2812,0.096],[2827,0.094],[2838,0.0525],[2848,0.0045],[2861,0],
[2882,0.018],[2907,0.03],[2939,0.0385],[2966,0.0455],[2991,0.0515],[3013,0.0505],[3030,0.0455],[3045,0.0335],[3055,0.0113],[3066,0.0045],[3087,0.018],[3108,0.0265],
[3129,0.056],[3160,0.0765],[3188,0.09],[3213,0.0975],[3224,0.095],[3234,0.0525],[3241,0.0045],[3255,0],[3262,0],
[3271,0.018],[3292,0.0285],[3313,0.035],[3334,0.044],[3349,0.0455],[3366,0.0405],[3383,0.03],[3395,0.0145],[3408,0.001],[3423,0.0145],[3440,0.0285],[3461,0.037],[3482,0.0415],[3504,0.044],
[3524,0.0625],[3546,0.08],[3567,0.09],[3588,0.095],[3609,0.102],[3624,0.1],[3634,0.0525],[3643,0.0045],[3655,0],
[3672,0.0145],[3694,0.025],[3721,0.032],[3747,0.0385],[3772,0.044],[3793,0.047],[3810,0.0405],[3827,0.0285],[3842,0.018],[3856,0.006],[3869,0.0027],[3884,0.0113],[3899,0.0215],[3911,0.0285],
[3932,0.0525],[3958,0.073],[3983,0.0865],[4010,0.097],[4025,0.095],[4034,0.0525],[4042,0.0045],[4053,0],
[4068,0.0145],[4089,0.0265],[4116,0.035],[4131,0.0385],[4148,0.0395],[4165,0.044],[4180,0.0385],[4190,0.0285],[4201,0.013],[4212,0.0017],[4229,0.0145],[4254,0.0285],[4286,0.0405],[4307,0.044],
[4328,0.066],[4355,0.08],[4385,0.092],[4412,0.102],[4427,0.0985],[4436,0.0525],[4444,0.0045],[4455,0],
[4476,0.0145],[4497,0.0285],[4518,0.037],[4539,0.0385],[4571,0.047],[4592,0.0455],[4603,0.035],[4613,0.0096],[4620,0.0027],[4639,0.0145],[4666,0.0285],[4698,0.0395],
[4723,0.066],[4751,0.083],[4782,0.095],[4808,0.101],[4825,0.0985],[4835,0.0525],[4846,0.0045],[4856,0],
[4871,0.0145],[4892,0.0265],[4920,0.0335],[4941,0.0385],[4962,0.0455],[4983,0.043],[4998,0.0335],[5011,0.018],[5019,0],[5036,0.0113],[5057,0.025],[5074,0.0385],[5099,0.0395],
[5120,0.059],[5142,0.08],[5163,0.09],[5190,0.097],[5209,0.102],[5222,0.0985],[5233,0.0525],[5241,0.0045],[5254,0],
[5268,0.0145],[5285,0.0285],[5300,0.03],[5315,0.0285],[5328,0.018],[5342,0.006],[5353,0.0113],[5374,0.0285],[5396,0.038],[5427,0.043],[5442,0.042],[5455,0.0285],[5465,0.0113],[5476,0],
[5497,0.025],[5522,0.0525],[5543,0.0695],[5569,0.083],[5596,0.0935],[5613,0.0975],[5624,0.095],[5634,0.0525],[5643,0.0045],[5653,0],
[5674,0.0145],[5696,0.0285],[5723,0.032],[5751,0.037],[5776,0.043],[5808,0.0505],[5829,0.053],[5843,0.055],[5856,0.0455],[5871,0.025],[5882,0.0045],[5899,0.0096],[5913,0.0215],
[5934,0.0525],[5962,0.073],[5987,0.0885],[6013,0.0975],[6025,0.0935],[6036,0.0525],[6046,0.0045],[6061,0],
[6082,0.0145],[6103,0.0285],[6131,0.0385],[6156,0.042],[6181,0.047],[6209,0.0525],[6230,0.0455],[6251,0.035],[6273,0.0265],[6294,0.018],[6309,0.0096],
[6326,0.035],[6347,0.0625],[6372,0.08],[6400,0.0885],[6414,0.092],[6425,0.0885],[6433,0.0455],[6442,0.0045],[6452,0],[6473,0.018],[6498,0.031]];

const p15 = [[0,0.139],[10,0.147],[20,0.152],[30,0.156],[42,0.159],[52,0.16],[57,0.158],[60,0.12],[64,0.03],[68,0.004],[74,0],[84,0],
[91,0.019],[112,0.032],[139,0.045],[169,0.0535],[196,0.0545],[224,0.056],[245,0.0545],[259,0.049],[281,0.0435],[291,0.0265],[302,0.002],
[316,0.0205],[338,0.032],[365,0.0395],[397,0.0435],[428,0.0415],[456,0.045],[470,0.0415],[481,0.028],[498,0.03],[513,0.0245],[523,0.015],[534,0.013],[555,0.0265],[576,0.034],[604,0.0395],[618,0.036],[633,0.03],[650,0.0265],[660,0.0113],[675,0.0075],[692,0.017],[713,0.028],[738,0.036],[766,0.0385],[793,0.0435],[808,0.0415],[819,0.03],[840,0.036],[857,0.03],[871,0.019],[882,0.0113],[899,0.017],[920,0.028],[945,0.036],[966,0.0405],[992,0.0405],[1004,0.034],[1013,0.017],[1023,0.002],[1034,0.001],
[1051,0.0205],[1072,0.034],[1097,0.0435],[1124,0.051],[1146,0.045],[1167,0.0435],[1188,0.0445],[1209,0.0375],[1224,0.019],[1236,0.002],
[1251,0.019],[1272,0.032],[1300,0.0415],[1325,0.05],[1346,0.05],[1363,0.0375],[1378,0.0265],[1392,0.015],[1409,0.0265],[1435,0.036],[1462,0.0415],[1483,0.0395],[1504,0.0415],
[1525,0.062],[1553,0.079],[1578,0.091],[1604,0.099],[1624,0.099],[1633,0.049],[1641,0.004],[1652,0.002],
[1667,0.019],[1688,0.03],[1715,0.036],[1747,0.0375],[1778,0.0435],[1800,0.045],[1815,0.034],[1827,0.015],[1838,0.004],[1852,0.017],[1873,0.028],[1895,0.032],[1912,0.03],
[1932,0.0545],[1958,0.0735],[1983,0.0865],[2004,0.095],[2017,0.095],[2027,0.049],[2038,0.004],[2048,0.001],
[2063,0.019],[2084,0.03],[2106,0.0375],[2137,0.0415],[2169,0.0445],[2186,0.0375],[2201,0.0205],[2212,0.013],[2232,0.0205],[2253,0.03],[2274,0.032],[2285,0.028],[2295,0.0245],[2306,0.03],
[2327,0.0545],[2355,0.0755],[2384,0.0865],[2411,0.094],[2422,0.091],[2432,0.049],[2439,0.004],[2449,0.001],
[2464,0.019],[2485,0.032],[2506,0.034],[2527,0.0375],[2544,0.0415],[2559,0.03],[2580,0.032],[2601,0.03],[2623,0.03],[2644,0.028],[2665,0.0265],[2679,0.0225],[2696,0.0265],[2713,0.03],
[2734,0.0585],[2760,0.0755],[2787,0.085],[2812,0.094],[2827,0.0925],[2838,0.049],[2848,0.004],[2861,0.001],
[2876,0.019],[2897,0.032],[2918,0.0375],[2945,0.0415],[2956,0.036],[2966,0.015],[2975,0.002],[2991,0.017],[3013,0.028],[3038,0.036],[3066,0.0415],[3093,0.047],[3108,0.049],
[3129,0.068],[3160,0.083],[3188,0.095],[3213,0.102],[3224,0.099],[3234,0.049],[3241,0.004],[3251,0],
[3260,0.015],[3282,0.0245],[3303,0.032],[3324,0.0375],[3334,0.0405],[3349,0.034],[3362,0.0265],[3370,0.0075],[3387,0.0075],[3404,0.0113],[3419,0.0225],[3440,0.032],[3461,0.0375],[3482,0.0405],[3497,0.032],[3510,0.0415],
[3531,0.064],[3552,0.079],[3578,0.0885],[3599,0.094],[3613,0.097],[3626,0.094],[3634,0.049],[3643,0.004],[3655,0.001],
[3672,0.019],[3694,0.03],[3715,0.032],[3736,0.0375],[3751,0.0385],[3764,0.032],[3779,0.032],[3793,0.034],[3806,0.0205],[3814,0.0075],[3831,0.019],[3852,0.028],[3884,0.032],[3905,0.034],
[3926,0.0605],[3953,0.0775],[3979,0.0885],[4006,0.098],[4021,0.095],[4032,0.049],[4042,0.004],[4053,0.001],
[4068,0.017],[4089,0.028],[4110,0.032],[4131,0.036],[4148,0.034],[4163,0.0375],[4180,0.0265],[4190,0.0113],[4201,0.013],[4222,0.0245],[4244,0.032],[4275,0.034],[4296,0.0375],[4307,0.0245],[4317,0.034],
[4338,0.064],[4364,0.079],[4391,0.0865],[4412,0.0935],[4427,0.0905],[4436,0.049],[4444,0.004],[4455,0],
[4472,0.019],[4493,0.032],[4512,0.0395],[4529,0.0415],[4546,0.03],[4567,0.0375],[4588,0.032],[4603,0.019],[4613,0.0055],[4630,0.017],[4655,0.03],[4681,0.0375],[4698,0.032],[4715,0.03],
[4736,0.064],[4761,0.079],[4786,0.0885],[4810,0.097],[4825,0.094],[4835,0.049],[4846,0.004],[4856,0.001],
[4873,0.019],[4894,0.032],[4920,0.0395],[4941,0.045],[4962,0.049],[4983,0.045],[5004,0.0395],[5019,0.034],[5032,0.019],[5046,0.002],[5061,0.015],[5082,0.0265],[5103,0.032],
[5125,0.0605],[5146,0.079],[5173,0.0905],[5194,0.096],[5209,0.101],[5222,0.097],[5233,0.049],[5241,0.004],[5254,0.001],
[5268,0.019],[5290,0.03],[5321,0.032],[5353,0.036],[5385,0.0375],[5406,0.0405],[5421,0.034],[5438,0.017],[5448,0.004],[5465,0.015],[5484,0.0265],[5501,0.032],
[5522,0.0605],[5543,0.0775],[5569,0.0885],[5596,0.095],[5613,0.097],[5624,0.094],[5634,0.049],[5643,0.004],[5653,0],
[5670,0.019],[5692,0.03],[5717,0.032],[5744,0.032],[5755,0.019],[5766,0.0075],[5781,0.015],[5802,0.03],[5823,0.0395],[5843,0.0445],[5856,0.032],[5867,0.0113],[5878,0.001],[5892,0.015],[5913,0.0265],
[5934,0.0565],[5962,0.0775],[5987,0.0905],[6013,0.1],[6025,0.096],[6036,0.049],[6046,0.004],[6061,0],
[6076,0.019],[6097,0.032],[6124,0.0395],[6152,0.0415],[6167,0.0395],[6188,0.042],[6215,0.045],[6230,0.0415],[6245,0.0375],[6273,0.0415],[6309,0.049],
[6330,0.0715],[6357,0.0865],[6385,0.096],[6410,0.102],[6421,0.1],[6431,0.049],[6440,0.004],[6452,0],[6473,0.019],[6498,0.032]];

const series = [p06, p07, p08, p09, p10, p11, p13, p15];

// ---- layout (pixels) ----
const W = 2133, H = 1600;
const ML = 108.8, MR = 23, MT = 22.7;
const BAND = 158.6, STEP = 199;
const MB = H - (MT + 7 * STEP + BAND);
const PLOTW = W - ML - MR;
const TICK = 20;
const AX = "#262626";

const rows = [];
series.forEach((s, i) => s.forEach(([x, y]) => rows.push({p: panelLabels[i], x, y})));

const chart = Plot.plot({
  width: W, height: H,
  marginLeft: ML, marginRight: MR, marginTop: MT, marginBottom: MB,
  style: {fontFamily: "DejaVu Sans, sans-serif", fontSize: "20px", color: AX, background: "white", overflow: "visible"},
  x: {domain: [0, 6500]},
  y: {domain: [0, 0.1623]},
  fy: {domain: panelLabels, paddingInner: (STEP - BAND) / STEP, paddingOuter: 0, round: false, axis: null},
  marks: [
    Plot.ruleY(stimStart, {x1: d => d, x2: d => d + stimDur, y: () => stimLevel, stroke: "#FF0000", strokeWidth: 5, strokeLinecap: "round"}),
    Plot.line(rows, {x: "x", y: "y", fy: "p", z: "p", curve: "monotone-x", stroke: "#0072BD", strokeWidth: 3.5, strokeLinejoin: "round", strokeLinecap: "round"}),
    Plot.ruleX([0], {stroke: AX, strokeWidth: 1.2}),
    Plot.ruleY([0], {stroke: AX, strokeWidth: 1.2}),
    Plot.ruleX(xTicks.filter(d => d > 0), {stroke: AX, strokeWidth: 1, insetTop: BAND - TICK}),
    Plot.ruleY(yTicks, {stroke: AX, strokeWidth: 1, insetRight: PLOTW - TICK}),
    Plot.axisY({ticks: yTicks, tickSize: 0, tickPadding: 9, tickFormat: d => String(d), fontSize: 20, label: null, facetAnchor: "left", fill: AX}),
    Plot.axisX({ticks: xTicks, tickSize: 0, tickPadding: 2, tickFormat: d => String(d), fontSize: 20, label: null, facetAnchor: "bottom", fill: AX}),
    Plot.text(panelLabels, {fy: d => d, text: d => d, frameAnchor: "left", textAnchor: "middle", dx: -70, rotate: -90, fontWeight: "bold", fontSize: 19, fill: AX}),
    Plot.text(["0.9"], {fy: d => d, text: () => yLabel, frameAnchor: "left", textAnchor: "middle", dx: -98, rotate: -90, fontWeight: "bold", fontSize: 19, fill: AX})
  ]
});

const wrap = document.getElementById("wrap");
wrap.insertBefore(chart, wrap.firstChild);
document.querySelector("#legend .tx").textContent = legendLabel;
</script>
</body></html>
